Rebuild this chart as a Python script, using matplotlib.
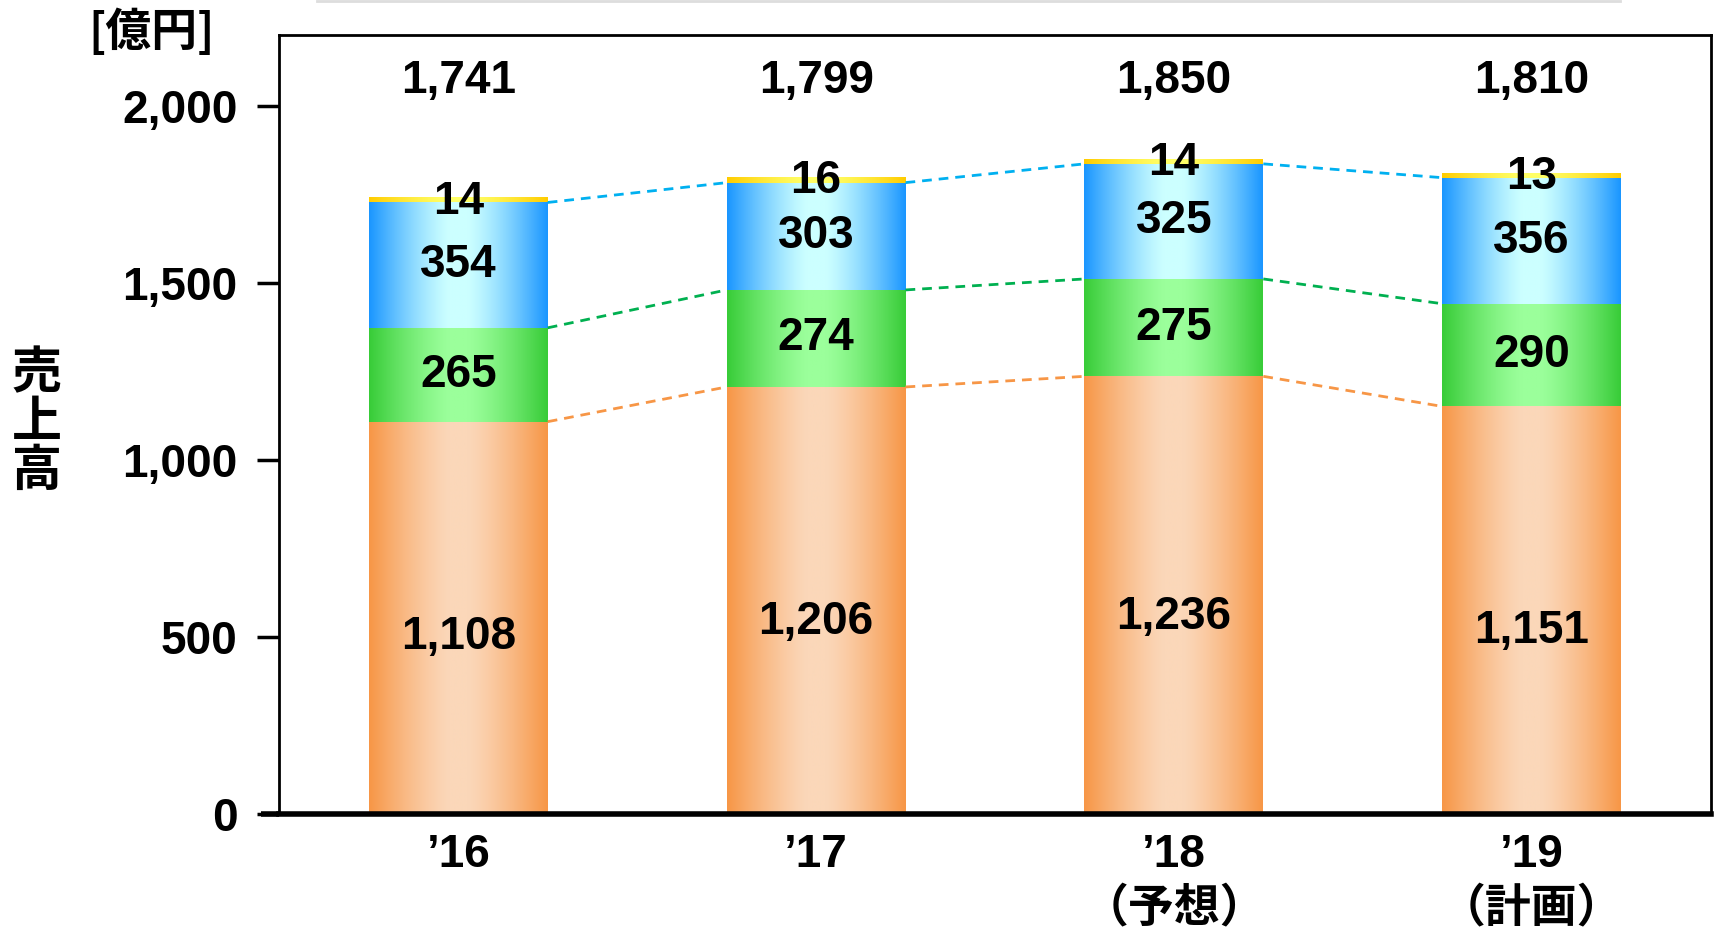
import numpy as np
import matplotlib
matplotlib.use('Agg')
import matplotlib.pyplot as plt
from matplotlib.colors import to_rgb

plt.rcParams['font.family'] = ['Liberation Sans Narrow', 'Liberation Sans', 'Noto Sans CJK JP']
plt.rcParams['font.weight'] = 'bold'

# ----------- Dados -----------
anos = ['’16', '’17', '’18\n（予想）', '’19\n（計画）']
seg_laranja = [1108, 1206, 1236, 1151]
seg_verde = [265, 274, 275, 290]
seg_azul = [354, 303, 325, 356]
seg_amarelo = [14, 16, 14, 13]
totais = [1741, 1799, 1850, 1810]

# cores (borda escura, centro claro)
cores = [
    ('#F79646', '#FBD7B9'),
    ('#38CC38', '#9BFF9B'),
    ('#1A96FF', '#CCFFFF'),
    ('#FFCC00', '#FFFF66'),
]
cores_linha = ['#F79646', '#00B050', '#00B0F0']


def gradiente(escura, clara, n=200):
    t = np.abs(np.linspace(-1, 1, n))
    t = np.clip((t - 0.1) / 0.9, 0, 1) ** 1.3
    c0 = np.array(to_rgb(clara))
    c1 = np.array(to_rgb(escura))
    return (c0[None, :] * (1 - t[:, None]) + c1[None, :] * t[:, None])[None, :, :]


fig = plt.figure(figsize=(17.14, 9.35), dpi=100)
ax = fig.add_axes([0.163, 0.1294, 0.835, 0.8332])

x = np.arange(len(anos))
largura = 0.5
series = [seg_laranja, seg_verde, seg_azul, seg_amarelo]
base = np.zeros(len(anos))
topos = []
for valores, (escura, clara) in zip(series, cores):
    barras = ax.bar(x, valores, largura, bottom=base, color='none', edgecolor='none')
    img = gradiente(escura, clara)
    for p in barras.patches:
        ax.imshow(img, extent=[p.get_x(), p.get_x() + p.get_width(),
                               p.get_y(), p.get_y() + p.get_height()],
                  aspect='auto', interpolation='bilinear', zorder=2)
    base = base + np.array(valores)
    topos.append(base.copy())

# linhas tracejadas entre as barras
for topo, cor in zip(topos[:3], cores_linha):
    for i in range(len(anos) - 1):
        ax.plot([x[i] + largura / 2, x[i + 1] - largura / 2], [topo[i], topo[i + 1]],
                color=cor, lw=2, ls=(0, (3.5, 2.5)), zorder=3)

# rótulos
fs = 33
for i in range(len(anos)):
    ax.text(x[i], seg_laranja[i] * 0.45, f'{seg_laranja[i]:,}', ha='center', va='center', fontsize=fs, zorder=5)
    ax.text(x[i], topos[0][i] + seg_verde[i] / 2, f'{seg_verde[i]}', ha='center', va='center', fontsize=fs, zorder=5)
    ax.text(x[i], topos[1][i] + seg_azul[i] / 2, f'{seg_azul[i]}', ha='center', va='center', fontsize=fs, zorder=5)
    ax.text(x[i], totais[i] - 12, f'{seg_amarelo[i]}', ha='center', va='center', fontsize=fs, zorder=5)
    ax.text(x[i], 2070, f'{totais[i]:,}', ha='center', va='center', fontsize=fs, zorder=5)

ax.set_xlim(-0.5, 3.5)
ax.set_ylim(0, 2200)
ax.set_yticks([0, 500, 1000, 1500, 2000])
ax.set_yticklabels(['0', '500', '1,000', '1,500', '2,000'], fontsize=fs)
ax.set_xticks(x)
ax.set_xticklabels(anos, fontsize=fs, linespacing=1.3)
ax.tick_params(axis='y', length=16, width=2.5, pad=14)
ax.tick_params(axis='x', length=0, pad=14)
for lado in ['left', 'top', 'right']:
    ax.spines[lado].set_linewidth(2)
ax.spines['bottom'].set_linewidth(4)
ax.plot([-0.55, -0.5], [0, 0], color='black', lw=4, clip_on=False, solid_capstyle='butt')

fig.text(0.0215, 0.548, '売\n上\n高', ha='center', va='center', fontsize=36,
         linespacing=0.95, family=['Noto Sans CJK JP'], fontweight='bold')
fig.text(0.0885, 0.965, '[億円]', ha='center', va='center', fontsize=33,
         family=['Liberation Sans Narrow', 'Noto Sans CJK JP'], fontweight='bold')

# linha cinza no topo
fig.add_artist(plt.Line2D([0.185, 0.945], [0.999, 0.999], color='#DDDDDD', lw=2))

fig.savefig('out.png', dpi=100)
